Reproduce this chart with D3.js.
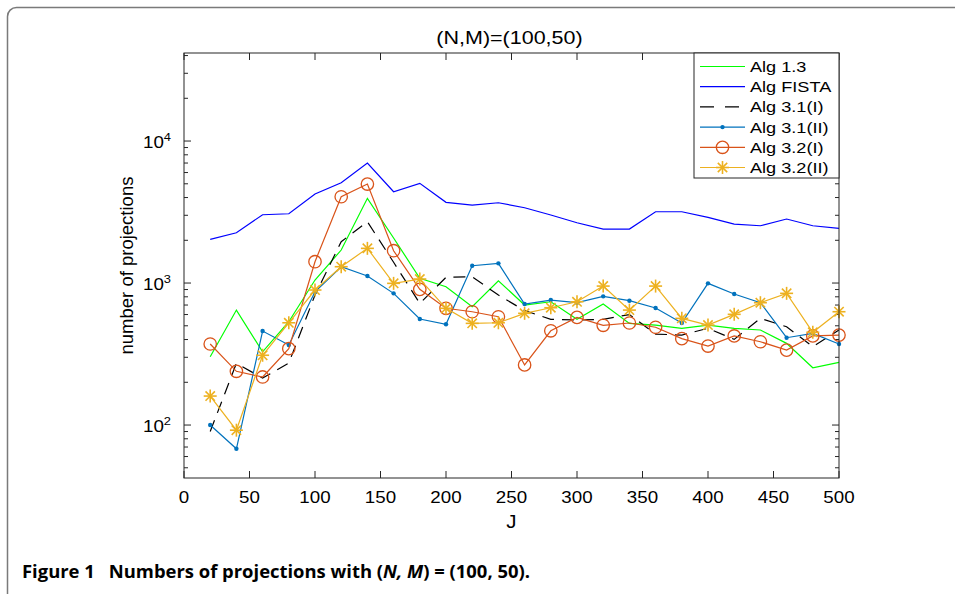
<!DOCTYPE html>
<html>
<head>
<meta charset="utf-8">
<script src="https://d3js.org/d3.v7.min.js"></script>
<style>
  html, body { margin: 0; padding: 0; background: #fff; }
  svg text { fill: #000; }
</style>
</head>
<body>
<svg id="chart" width="955" height="594" font-family='"Liberation Sans", Arial, Helvetica, sans-serif'></svg>
<script>
// values
const J = [20, 40, 60, 80, 100, 120, 140, 160, 180, 200, 220, 240, 260, 280, 300, 320, 340, 360, 380, 400, 420, 440, 460, 480, 500];
const alg13 = [303, 645, 328, 534, 1050, 1708, 3950, 2075, 1080, 942, 681, 1038, 700, 738, 555, 711, 520, 506, 480, 506, 480, 467, 376, 253, 276];
const algFista = [2031, 2261, 3027, 3076, 4236, 5085, 6998, 4395, 5037, 3700, 3542, 3677, 3390, 3012, 2658, 2400, 2400, 3178, 3178, 2902, 2603, 2532, 2823, 2532, 2427];
const alg31I = [90, 272, 214, 273, 823, 1954, 2702, 1400, 719, 1097, 1107, 823, 640, 555, 549, 555, 600, 437, 430, 480, 401, 564, 492, 356, 467];
const alg31II = [100, 68, 459, 366, 868, 1303, 1120, 846, 558, 512, 1324, 1376, 711, 759, 727, 806, 751, 667, 523, 995, 837, 727, 412, 442, 372];
const alg32I = [372, 239, 218, 345, 1413, 4052, 4978, 1689, 903, 664, 628, 579, 265, 461, 573, 504, 523, 488, 406, 360, 424, 386, 337, 424, 430];
const alg32II = [160, 92, 310, 525, 893, 1303, 1755, 995, 1067, 664, 520, 525, 612, 670, 738, 952, 645, 952, 564, 506, 602, 727, 846, 450, 628];

const xTicks = [0, 50, 100, 150, 200, 250, 300, 350, 400, 450, 500];
const yDecades = [2, 3, 4];
const legendLabels = ['Alg 1.3', 'Alg FISTA', 'Alg 3.1(I)', 'Alg 3.1(II)', 'Alg 3.2(I)', 'Alg 3.2(II)'];

const series = [
    {name: legendLabels[0], values: alg13, color: '#00ff00', marker: null},
    {name: legendLabels[1], values: algFista, color: '#0000ff', marker: null},
    {name: legendLabels[2], values: alg31I, color: '#000000', marker: null, dash: '12,8'},
    {name: legendLabels[3], values: alg31II, color: '#0072bd', marker: 'dot'},
    {name: legendLabels[4], values: alg32I, color: '#d95319', marker: 'circle'},
    {name: legendLabels[5], values: alg32II, color: '#edb120', marker: 'star'}
];

const svg = d3.select('#chart');
const plot = {left: 184, right: 839, top: 53, bottom: 478};
const STRETCH = 1.17;

// the source figure is a little wider than its fonts, so widen text
function stretch(sel, k) {
    sel.each(function () {
        const len = this.getComputedTextLength();
        this.setAttribute('textLength', len * k);
        this.setAttribute('lengthAdjust', 'spacingAndGlyphs');
    });
    return sel;
}

// frame round the figure
svg.append('rect')
    .attr('x', 7.5).attr('y', 7.5)
    .attr('width', 980).attr('height', 610)
    .attr('rx', 9)
    .attr('fill', 'none')
    .attr('stroke', '#7a7a7a')
    .attr('stroke-width', 1.5);

const x = d3.scaleLinear().domain([0, 500]).range([plot.left, plot.right]);
const y = d3.scaleLog().domain([Math.pow(10, 1.627), Math.pow(10, 4.62)]).range([plot.bottom, plot.top]);

const axisColor = '#262626';
const g = svg.append('g');

// ticks (inward, on all four sides)
const majorLen = 7, minorLen = 4;
xTicks.forEach(t => {
    g.append('line').attr('x1', x(t)).attr('x2', x(t))
        .attr('y1', plot.bottom).attr('y2', plot.bottom - majorLen)
        .attr('stroke', axisColor);
    g.append('line').attr('x1', x(t)).attr('x2', x(t))
        .attr('y1', plot.top).attr('y2', plot.top + majorLen)
        .attr('stroke', axisColor);
});

const [yLo, yHi] = y.domain();
for (let d = 1; d <= 4; d++) {
    for (let m = 1; m <= 9; m++) {
        const v = m * Math.pow(10, d);
        if (v < yLo || v > yHi) continue;
        const len = m === 1 ? majorLen : minorLen;
        g.append('line').attr('x1', plot.left).attr('x2', plot.left + len)
            .attr('y1', y(v)).attr('y2', y(v)).attr('stroke', axisColor);
        g.append('line').attr('x1', plot.right).attr('x2', plot.right - len)
            .attr('y1', y(v)).attr('y2', y(v)).attr('stroke', axisColor);
    }
}

// x tick labels
xTicks.forEach(t => {
    stretch(g.append('text')
        .attr('x', x(t)).attr('y', 503)
        .attr('text-anchor', 'middle')
        .attr('font-size', 16)
        .text(t), STRETCH);
});

// y tick labels 10^n
yDecades.forEach(p => {
    const t = g.append('text')
        .attr('x', 171).attr('y', y(Math.pow(10, p)) + 7)
        .attr('text-anchor', 'end')
        .attr('font-size', 16);
    t.append('tspan').text('10');
    t.append('tspan').attr('dy', -7).attr('font-size', 11).text(p);
    stretch(t, STRETCH);
});

// axis labels and title
stretch(svg.append('text')
    .attr('x', (plot.left + plot.right) / 2).attr('y', 528)
    .attr('text-anchor', 'middle').attr('font-size', 17.5)
    .text('J'), STRETCH);

svg.append('text')
    .attr('transform', `translate(133,${(plot.top + plot.bottom) / 2}) rotate(-90)`)
    .attr('text-anchor', 'middle').attr('font-size', 18.5)
    .text('number of projections');

stretch(svg.append('text')
    .attr('x', (plot.left + plot.right) / 2 - 2).attr('y', 44)
    .attr('text-anchor', 'middle').attr('font-size', 17.5)
    .text('(N,M)=(100,50)'), STRETCH * 1.05);

// lines
const line = d3.line()
    .x((d, i) => x(J[i]))
    .y(d => y(d));

function drawMarker(sel, type, color, cx, cy) {
    if (type === 'dot') {
        sel.append('circle').attr('cx', cx).attr('cy', cy).attr('r', 2.2).attr('fill', color);
    } else if (type === 'circle') {
        sel.append('circle').attr('cx', cx).attr('cy', cy).attr('r', 6.2)
            .attr('fill', 'none').attr('stroke', color).attr('stroke-width', 1.3);
    } else if (type === 'star') {
        const r = 6.5, q = r * 0.72;
        const segs = [[-r, 0, r, 0], [0, -r, 0, r], [-q, -q, q, q], [-q, q, q, -q]];
        segs.forEach(s => sel.append('line')
            .attr('x1', cx + s[0]).attr('y1', cy + s[1])
            .attr('x2', cx + s[2]).attr('y2', cy + s[3])
            .attr('stroke', color).attr('stroke-width', 1.6));
    }
}

const lines = svg.append('g');
series.forEach(s => {
    lines.append('path')
        .datum(s.values)
        .attr('d', line)
        .attr('fill', 'none')
        .attr('stroke', s.color)
        .attr('stroke-width', 1.2)
        .attr('stroke-dasharray', s.dash || null);
    if (s.marker) {
        const mg = lines.append('g');
        s.values.forEach((v, i) => drawMarker(mg, s.marker, s.color, x(J[i]), y(v)));
    }
});

// axis box on top of the data
svg.append('rect')
    .attr('x', plot.left).attr('y', plot.top)
    .attr('width', plot.right - plot.left).attr('height', plot.bottom - plot.top)
    .attr('fill', 'none').attr('stroke', axisColor).attr('stroke-width', 1);

// legend
const leg = {x: 694, y: 53, w: 145, h: 125};
const lg = svg.append('g');
lg.append('rect')
    .attr('x', leg.x).attr('y', leg.y).attr('width', leg.w).attr('height', leg.h)
    .attr('fill', '#fff').attr('stroke', axisColor).attr('stroke-width', 1);
series.forEach((s, i) => {
    const ly = 66.5 + i * 20.2;
    lg.append('line')
        .attr('x1', 700).attr('x2', 745).attr('y1', ly).attr('y2', ly)
        .attr('stroke', s.color).attr('stroke-width', 1.2)
        .attr('stroke-dasharray', s.dash ? '14,11' : null);
    if (s.marker) drawMarker(lg, s.marker, s.color, 722.5, ly);
    stretch(lg.append('text')
        .attr('x', 750).attr('y', ly + 5.5)
        .attr('font-size', 15.5)
        .text(s.name), STRETCH);
});

// caption
const cap = svg.append('text')
    .attr('x', 22).attr('y', 578)
    .style('font-family', '"Open Sans", "Noto Sans", sans-serif')
    .style('font-weight', 700)
    .attr('font-size', 17.5);
cap.append('tspan').text('Figure 1\u2002 Numbers of projections with (');
cap.append('tspan').attr('font-style', 'italic').text('N, M');
cap.append('tspan').text(') = (100, 50).');
cap.each(function () {
    this.setAttribute('textLength', 508);
    this.setAttribute('lengthAdjust', 'spacingAndGlyphs');
});
</script>
</body>
</html>
